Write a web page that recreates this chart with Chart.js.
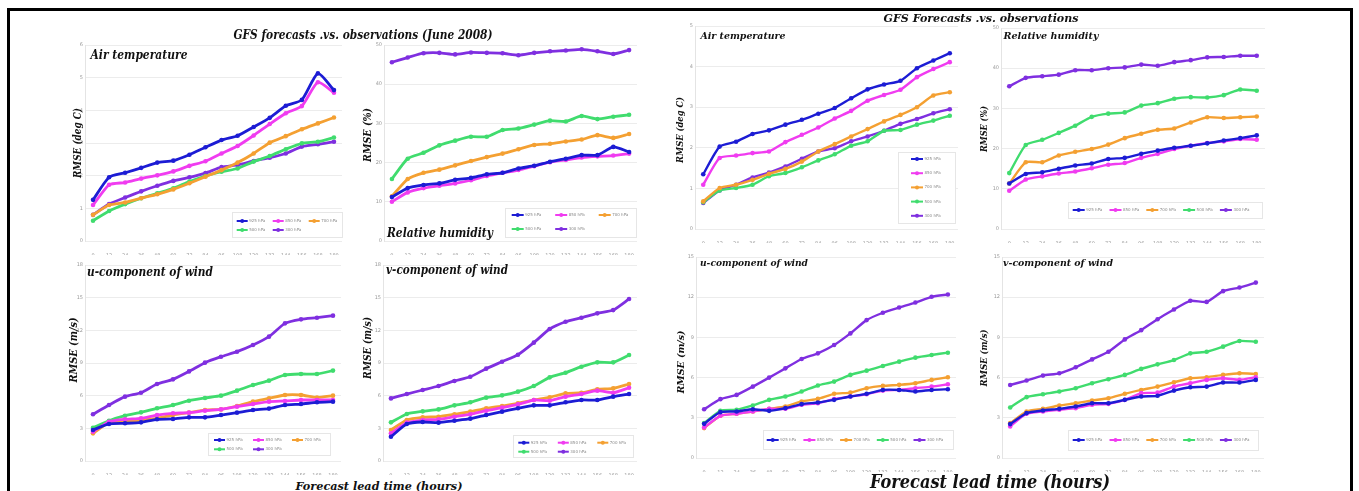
<!DOCTYPE html>
<html>
<head>
<meta charset="utf-8">
<title>GFS forecasts vs observations – RMSE</title>
<script src="https://cdn.jsdelivr.net/npm/chart.js@4.4.1/dist/chart.umd.min.js"></script>
<style>
  html, body { margin: 0; padding: 0; background: #fff; }
  body { width: 1359px; height: 491px; position: relative; overflow: hidden; }
  .frame { position: absolute; left: 7px; top: 8px; width: 1346px; height: 600px;
           border: 3px solid #000; box-sizing: border-box; }
  canvas { position: absolute; }
  .txt { position: absolute; white-space: nowrap; line-height: 1;
         font-family: "DejaVu Serif", serif; font-weight: bold; font-style: italic; color: #111; }
</style>
</head>
<body>
<div class="frame"></div>
<script>
// Forecast lead times (hours) and pressure levels
const HOURS = [0, 12, 24, 36, 48, 60, 72, 84, 96, 108, 120, 132, 144, 156, 168, 180];
const LEVELS = ['925 hPa', '850 hPa', '700 hPa', '500 hPa', '300 hPa'];

// June 2008 RMSE, rows in LEVELS order
const juneTemp = [
  [1.26, 1.95, 2.09, 2.24, 2.40, 2.46, 2.64, 2.87, 3.09, 3.22, 3.49, 3.77, 4.14, 4.32, 5.13, 4.62],
  [1.10, 1.72, 1.79, 1.91, 2.01, 2.13, 2.30, 2.44, 2.68, 2.91, 3.23, 3.58, 3.91, 4.13, 4.86, 4.54],
  [0.80, 1.10, 1.18, 1.31, 1.43, 1.58, 1.77, 1.97, 2.17, 2.40, 2.68, 3.01, 3.21, 3.42, 3.60, 3.78],
  [0.62, 0.92, 1.13, 1.31, 1.46, 1.61, 1.82, 1.99, 2.12, 2.22, 2.43, 2.60, 2.81, 2.99, 3.04, 3.17],
  [0.80, 1.13, 1.33, 1.52, 1.69, 1.84, 1.95, 2.08, 2.26, 2.33, 2.45, 2.55, 2.68, 2.89, 2.96, 3.04]
];
const juneRH = [
  [11.2, 13.5, 14.3, 14.7, 15.6, 16.1, 17.0, 17.4, 18.5, 19.2, 20.2, 21.0, 21.9, 21.9, 24.0, 22.7],
  [10.0, 12.4, 13.5, 14.1, 14.7, 15.5, 16.6, 17.4, 18.1, 19.1, 20.1, 20.7, 21.3, 21.6, 21.8, 22.3],
  [11.4, 15.8, 17.4, 18.2, 19.3, 20.4, 21.4, 22.3, 23.4, 24.5, 24.8, 25.4, 25.9, 27.0, 26.3, 27.3],
  [15.8, 21.0, 22.5, 24.4, 25.6, 26.6, 26.6, 28.3, 28.7, 29.7, 30.7, 30.5, 31.9, 31.1, 31.7, 32.2],
  [45.6, 46.8, 47.9, 48.0, 47.6, 48.1, 48.0, 47.9, 47.4, 48.0, 48.4, 48.6, 48.9, 48.4, 47.7, 48.7]
];
const juneU = [
  [2.85, 3.40, 3.46, 3.55, 3.83, 3.86, 4.01, 4.01, 4.22, 4.44, 4.68, 4.81, 5.14, 5.23, 5.39, 5.45],
  [2.69, 3.61, 3.83, 3.92, 4.22, 4.38, 4.44, 4.62, 4.74, 4.99, 5.23, 5.45, 5.51, 5.60, 5.60, 5.60],
  [2.54, 3.52, 3.61, 3.76, 3.92, 4.22, 4.44, 4.68, 4.74, 5.05, 5.45, 5.75, 6.06, 6.06, 5.82, 6.00],
  [3.06, 3.70, 4.16, 4.47, 4.84, 5.14, 5.54, 5.79, 6.00, 6.46, 6.98, 7.38, 7.90, 7.99, 7.99, 8.30],
  [4.29, 5.14, 5.91, 6.27, 7.07, 7.50, 8.23, 9.03, 9.58, 10.04, 10.65, 11.42, 12.64, 13.01, 13.16, 13.35]
];
const juneV = [
  [2.23, 3.40, 3.58, 3.52, 3.70, 3.89, 4.22, 4.53, 4.84, 5.11, 5.11, 5.39, 5.60, 5.60, 5.91, 6.15],
  [2.54, 3.52, 3.76, 3.83, 4.07, 4.29, 4.62, 4.90, 5.20, 5.60, 5.54, 5.91, 6.15, 6.46, 6.27, 6.73],
  [2.85, 3.76, 4.01, 4.07, 4.29, 4.53, 4.84, 5.05, 5.30, 5.60, 5.85, 6.21, 6.27, 6.58, 6.67, 7.07],
  [3.55, 4.32, 4.56, 4.74, 5.11, 5.39, 5.82, 6.03, 6.37, 6.89, 7.68, 8.11, 8.66, 9.06, 9.06, 9.73],
  [5.75, 6.15, 6.52, 6.89, 7.35, 7.74, 8.48, 9.12, 9.76, 10.87, 12.12, 12.79, 13.16, 13.56, 13.86, 14.88]
];

// Second verification set
const gfsTemp = [
  [1.35, 2.03, 2.15, 2.34, 2.43, 2.57, 2.69, 2.84, 2.98, 3.22, 3.44, 3.56, 3.65, 3.96, 4.15, 4.33],
  [1.09, 1.75, 1.81, 1.87, 1.91, 2.14, 2.32, 2.50, 2.72, 2.91, 3.16, 3.30, 3.43, 3.74, 3.94, 4.11],
  [0.68, 1.01, 1.09, 1.21, 1.36, 1.48, 1.66, 1.91, 2.09, 2.28, 2.46, 2.65, 2.81, 3.00, 3.29, 3.37],
  [0.66, 0.95, 1.01, 1.09, 1.30, 1.38, 1.52, 1.69, 1.84, 2.05, 2.16, 2.42, 2.44, 2.57, 2.67, 2.79],
  [0.64, 0.95, 1.09, 1.27, 1.39, 1.54, 1.73, 1.91, 1.99, 2.16, 2.28, 2.42, 2.59, 2.71, 2.85, 2.95]
];
const gfsRH = [
  [11.3, 13.7, 14.1, 15.0, 15.8, 16.3, 17.4, 17.7, 18.7, 19.5, 20.2, 20.7, 21.3, 22.0, 22.6, 23.3],
  [9.5, 12.3, 13.1, 13.8, 14.3, 15.1, 16.0, 16.4, 17.7, 18.7, 19.9, 20.7, 21.4, 21.8, 22.4, 22.2],
  [11.3, 16.6, 16.6, 18.3, 19.2, 19.9, 21.0, 22.6, 23.7, 24.7, 25.0, 26.5, 27.8, 27.6, 27.8, 28.0],
  [13.9, 20.9, 22.2, 23.9, 25.7, 27.9, 28.7, 29.0, 30.7, 31.3, 32.4, 32.8, 32.7, 33.3, 34.7, 34.4],
  [35.5, 37.6, 38.0, 38.4, 39.5, 39.5, 40.0, 40.2, 40.9, 40.6, 41.5, 42.0, 42.7, 42.8, 43.1, 43.1]
];
const gfsU = [
  [2.55, 3.42, 3.47, 3.64, 3.52, 3.72, 4.02, 4.14, 4.34, 4.59, 4.79, 5.08, 5.08, 4.96, 5.08, 5.13],
  [2.28, 3.15, 3.30, 3.47, 3.67, 3.67, 3.97, 4.09, 4.39, 4.59, 4.76, 5.03, 5.08, 5.21, 5.33, 5.50],
  [2.23, 3.15, 3.30, 3.47, 3.67, 3.84, 4.22, 4.41, 4.79, 4.88, 5.21, 5.38, 5.46, 5.58, 5.83, 6.03],
  [2.60, 3.52, 3.60, 3.92, 4.34, 4.59, 4.96, 5.41, 5.70, 6.20, 6.52, 6.87, 7.19, 7.49, 7.69, 7.86],
  [3.64, 4.39, 4.71, 5.33, 6.00, 6.69, 7.39, 7.81, 8.43, 9.30, 10.29, 10.84, 11.23, 11.60, 12.03, 12.20]
];
const gfsV = [
  [2.53, 3.35, 3.55, 3.67, 3.84, 4.09, 4.09, 4.34, 4.59, 4.64, 5.03, 5.28, 5.33, 5.63, 5.63, 5.83],
  [2.36, 3.30, 3.47, 3.60, 3.72, 3.97, 4.04, 4.34, 4.84, 4.88, 5.33, 5.58, 5.83, 5.95, 5.83, 6.03],
  [2.60, 3.47, 3.67, 3.92, 4.09, 4.29, 4.46, 4.79, 5.08, 5.33, 5.65, 5.95, 6.03, 6.20, 6.32, 6.27],
  [3.77, 4.54, 4.76, 4.96, 5.21, 5.58, 5.88, 6.20, 6.65, 6.99, 7.31, 7.81, 7.93, 8.31, 8.73, 8.68],
  [5.45, 5.78, 6.15, 6.32, 6.77, 7.36, 7.93, 8.85, 9.54, 10.36, 11.08, 11.73, 11.65, 12.45, 12.72, 13.09]
];

const COLORS = ['#1c1cd4', '#f03cf0', '#f4a032', '#40dc6e', '#7f2fe0'];

// Legend drawn as a small framed box inside the plot area
const boxLegend = {
  id: 'boxLegend',
  afterDatasetsDraw(chart, args, o) {
    if (!o || !o.box) return;
    const c = chart.ctx, ox = o.ox, oy = o.oy;
    c.save();
    const [bx, by, bw, bh] = o.box;
    c.fillStyle = '#fff';
    c.fillRect(bx - ox, by - oy, bw, bh);
    c.strokeStyle = '#e6e6e6';
    c.lineWidth = 1;
    c.strokeRect(Math.round(bx - ox) + 0.5, Math.round(by - oy) + 0.5, bw, bh);
    chart.data.datasets.forEach((ds, i) => {
      const col = i % o.cols, row = Math.floor(i / o.cols);
      const x = o.x0 + col * o.dx - ox, y = o.y0 + row * o.dy - oy;
      c.strokeStyle = ds.borderColor;
      c.lineWidth = 2;
      c.beginPath(); c.moveTo(x, y); c.lineTo(x + o.len, y); c.stroke();
      c.fillStyle = ds.borderColor;
      c.beginPath(); c.arc(x + o.len / 2, y, 2, 0, Math.PI * 2); c.fill();
      c.fillStyle = '#8a8a8a';
      c.font = '4px "DejaVu Sans", sans-serif';
      c.textBaseline = 'middle';
      c.fillText(ds.label, x + o.len + 1.5, y);
    });
    c.restore();
  }
};

const PANELS = [
  { data: juneTemp, area: [85, 342, 45, 241], max: 6, step: 1, lw: 2.8,
    legend: { box: [232, 212, 110, 25], x0: 236.7, y0: 221, dx: 36, dy: 9, cols: 3, len: 11 } },
  { data: juneRH, area: [384, 637, 45, 241], max: 50, step: 10, lw: 2.8,
    legend: { box: [505, 208, 131, 29], x0: 511.7, y0: 215, dx: 43.5, dy: 14, cols: 3, len: 12 } },
  { data: juneU, area: [85, 341, 265, 461], max: 18, step: 3, lw: 2.8,
    legend: { box: [208, 433, 122, 22], x0: 214, y0: 440, dx: 39, dy: 9.3, cols: 3, len: 11 } },
  { data: juneV, area: [383, 637, 265, 461], max: 18, step: 3, lw: 2.8,
    legend: { box: [513, 435, 120, 22], x0: 518.3, y0: 442.7, dx: 39.5, dy: 9, cols: 3, len: 11 } },
  { data: gfsTemp, area: [695, 958, 26, 229], max: 5, step: 1, lw: 2.4,
    legend: { box: [898, 152, 57, 71], x0: 911, y0: 159, dx: 0, dy: 14.2, cols: 1, len: 12 } },
  { data: gfsRH, area: [1001, 1265, 28, 229], max: 50, step: 10, lw: 2.4,
    legend: { box: [1068, 202, 194, 16], x0: 1072.7, y0: 210, dx: 36.8, dy: 0, cols: 5, len: 12 } },
  { data: gfsU, area: [696, 956, 257, 458], max: 15, step: 3, lw: 2.4,
    legend: { box: [763, 430, 190, 19], x0: 766.7, y0: 440, dx: 36.7, dy: 0, cols: 5, len: 12 } },
  { data: gfsV, area: [1002, 1264, 257, 458], max: 15, step: 3, lw: 2.4,
    legend: { box: [1068, 430, 190, 20], x0: 1072.7, y0: 440, dx: 36.8, dy: 0, cols: 5, len: 12 } }
];

const PAD_L = 22, PAD_R = 6, PAD_T = 8, PAD_B = 14;

PANELS.forEach(p => {
  const [l, r, t, b] = p.area;
  const cv = document.createElement('canvas');
  const left = l - PAD_L, top = t - PAD_T;
  const w = r - l + PAD_L + PAD_R, h = b - t + PAD_T + PAD_B;
  cv.width = w; cv.height = h;
  cv.style.left = left + 'px'; cv.style.top = top + 'px';
  cv.style.width = w + 'px'; cv.style.height = h + 'px';
  document.body.appendChild(cv);

  new Chart(cv, {
    type: 'line',
    data: {
      labels: HOURS.map(String),
      datasets: p.data.map((vals, i) => ({
        label: LEVELS[i],
        data: vals,
        borderColor: COLORS[i],
        backgroundColor: COLORS[i],
        borderWidth: p.lw,
        pointRadius: 2.3,
        pointHoverRadius: 2.3,
        pointBorderWidth: 0,
        tension: 0.2,
        fill: false
      }))
    },
    options: {
      responsive: false,
      animation: false,
      devicePixelRatio: 1,
      layout: { padding: { left: 0, right: PAD_R, top: PAD_T, bottom: 0 } },
      plugins: {
        legend: { display: false },
        tooltip: { enabled: false },
        boxLegend: Object.assign({ ox: left, oy: top }, p.legend)
      },
      scales: {
        x: {
          type: 'category',
          offset: true,
          grid: { display: false },
          border: { display: false },
          ticks: { color: '#9a9a9a', font: { size: 5, family: 'DejaVu Sans' },
                   padding: 4, maxRotation: 0, autoSkip: false },
          afterFit: s => { s.height = PAD_B; }
        },
        y: {
          min: 0, max: p.max,
          grid: { color: '#ececec', drawTicks: false },
          border: { color: '#e4e4e4' },
          ticks: { stepSize: p.step, color: '#9a9a9a', font: { size: 5, family: 'DejaVu Sans' },
                   padding: 2 },
          afterFit: s => { s.width = PAD_L; }
        }
      }
    },
    plugins: [boxLegend]
  });
});

// Text: [string, centre x, centre y, width, font size, rotated]
const TEXTS = [
  ['GFS forecasts .vs. observations (June 2008)', 362.5, 35, 259, 12, false],
  ['GFS Forecasts .vs. observations', 980.5, 17.5, 195, 11, false],
  ['Forecast lead time (hours)', 378.5, 486, 167, 11, false],
  ['Forecast lead time (hours)', 990, 482, 240, 18, false],
  ['Air temperature', 138.5, 55, 97, 12, false],
  ['Relative humidity', 440, 232.5, 106, 12, false],
  ['u-component of wind', 150, 272, 126, 12, false],
  ['v-component of wind', 447, 270, 122, 12, false],
  ['Air temperature', 742.5, 36, 85, 10, false],
  ['Relative humidity', 1050.5, 35.5, 95, 10, false],
  ['u-component of wind', 754, 263, 108, 10, false],
  ['v-component of wind', 1058, 262.5, 110, 10, false],
  ['RMSE (deg C)', 77, 143, 70, 11, true],
  ['RMSE (%)', 367, 135, 54, 11, true],
  ['RMSE (m/s)', 73, 350, 65, 11, true],
  ['RMSE (m/s)', 367, 348, 62, 11, true],
  ['RMSE (deg C)', 680, 130, 66, 10, true],
  ['RMSE (%)', 984, 129, 46, 10, true],
  ['RMSE (m/s)', 681, 362, 63, 10, true],
  ['RMSE (m/s)', 984, 358, 57, 10, true]
];

TEXTS.forEach(([s, cx, cy, width, size, rot]) => {
  const d = document.createElement('div');
  d.className = 'txt';
  d.textContent = s;
  d.style.fontSize = size + 'px';
  document.body.appendChild(d);
  const natural = d.getBoundingClientRect().width;
  const k = width / natural;
  d.style.left = cx + 'px';
  d.style.top = cy + 'px';
  d.style.transform = 'translate(-50%, -50%)' + (rot ? ' rotate(-90deg)' : '') + ' scaleX(' + k.toFixed(3) + ')';
});
</script>
</body>
</html>
